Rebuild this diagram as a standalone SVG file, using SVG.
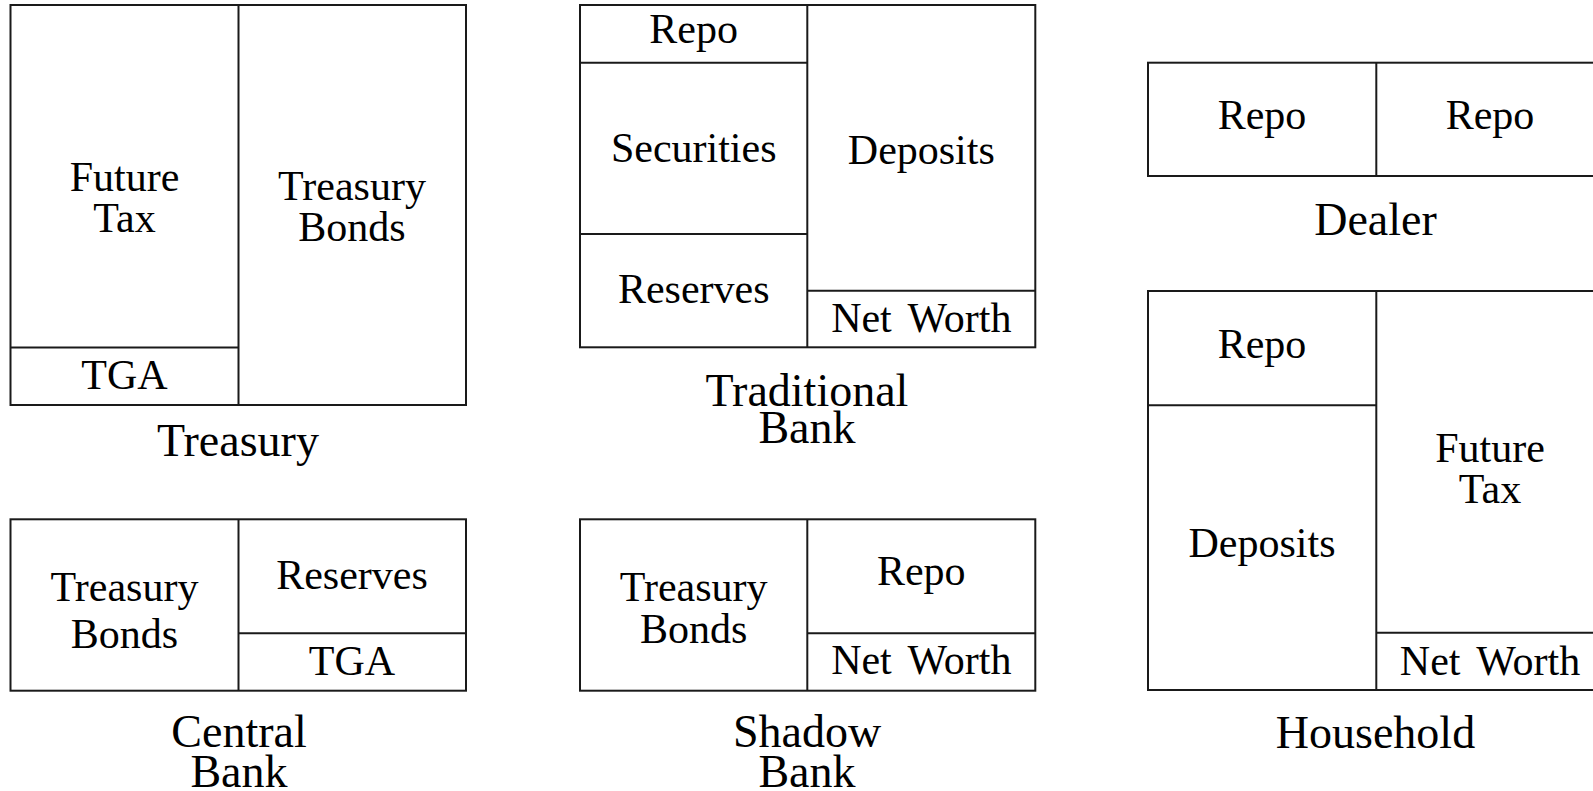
<svg xmlns="http://www.w3.org/2000/svg" width="1593" height="791" viewBox="0 0 1593 791">
<style>
rect,line{fill:none;stroke:#1a1a1a;stroke-width:2}
text{font-family:"Liberation Serif","DejaVu Serif",serif;font-size:42px;fill:#000;text-anchor:middle;word-spacing:6px}
text.title{font-size:46px}
</style>
<rect x="0" y="0" width="1593" height="791" style="fill:#fff;stroke:none"/>
<g id="treasury">
<rect x="10.5" y="5" width="455.5" height="400"/>
<line x1="238.5" y1="5" x2="238.5" y2="405"/>
<line x1="10.5" y1="347.5" x2="238.5" y2="347.5"/>
<text x="124.5" y="190.7">Future</text>
<text x="124.5" y="231.7">Tax</text>
<text x="352" y="200">Treasury</text>
<text x="352" y="240.7">Bonds</text>
<text x="124.5" y="389.3">TGA</text>
<text class="title" x="238" y="455.7">Treasury</text>
</g>
<g id="traditional-bank">
<rect x="580" y="5" width="455.3" height="342.3"/>
<line x1="807.3" y1="5" x2="807.3" y2="347.3"/>
<line x1="580" y1="62.7" x2="807.3" y2="62.7"/>
<line x1="580" y1="234" x2="807.3" y2="234"/>
<line x1="807.3" y1="290.7" x2="1035.3" y2="290.7"/>
<text x="693.7" y="43.3">Repo</text>
<text x="693.7" y="161.7">Securities</text>
<text x="693.7" y="303.3">Reserves</text>
<text x="921.3" y="164">Deposits</text>
<text x="921.3" y="331.7">Net Worth</text>
<text class="title" x="807" y="405.7">Traditional</text>
<text class="title" x="807" y="443.3">Bank</text>
</g>
<g id="dealer">
<rect x="1148" y="62.7" width="456" height="113.3"/>
<line x1="1376.3" y1="62.7" x2="1376.3" y2="176"/>
<text x="1262" y="129.3">Repo</text>
<text x="1490" y="129.3">Repo</text>
<text class="title" x="1375.5" y="235">Dealer</text>
</g>
<g id="household">
<rect x="1148" y="291" width="456" height="399"/>
<line x1="1376.3" y1="291" x2="1376.3" y2="690"/>
<line x1="1148" y1="405.3" x2="1376.3" y2="405.3"/>
<line x1="1376.3" y1="632.7" x2="1604" y2="632.7"/>
<text x="1262" y="358.3">Repo</text>
<text x="1262" y="556.7">Deposits</text>
<text x="1490" y="461.7">Future</text>
<text x="1490" y="502.7">Tax</text>
<text x="1490" y="675">Net Worth</text>
<text class="title" x="1375.5" y="748">Household</text>
</g>
<g id="central-bank">
<rect x="10.5" y="519.3" width="455.5" height="171.4"/>
<line x1="238.5" y1="519.3" x2="238.5" y2="690.7"/>
<line x1="238.5" y1="633.3" x2="466" y2="633.3"/>
<text x="124.5" y="600.7">Treasury</text>
<text x="124.5" y="647.7">Bonds</text>
<text x="352" y="589.3">Reserves</text>
<text x="352" y="675">TGA</text>
<text class="title" x="239" y="747.3">Central</text>
<text class="title" x="239" y="786.7">Bank</text>
</g>
<g id="shadow-bank">
<rect x="580" y="519.3" width="455.3" height="171.4"/>
<line x1="807.3" y1="519.3" x2="807.3" y2="690.7"/>
<line x1="807.3" y1="633.3" x2="1035.3" y2="633.3"/>
<text x="693.7" y="600.7">Treasury</text>
<text x="693.7" y="643.3">Bonds</text>
<text x="921.3" y="585">Repo</text>
<text x="921.3" y="674">Net Worth</text>
<text class="title" x="807" y="747.3">Shadow</text>
<text class="title" x="807" y="786.7">Bank</text>
</g>
</svg>
